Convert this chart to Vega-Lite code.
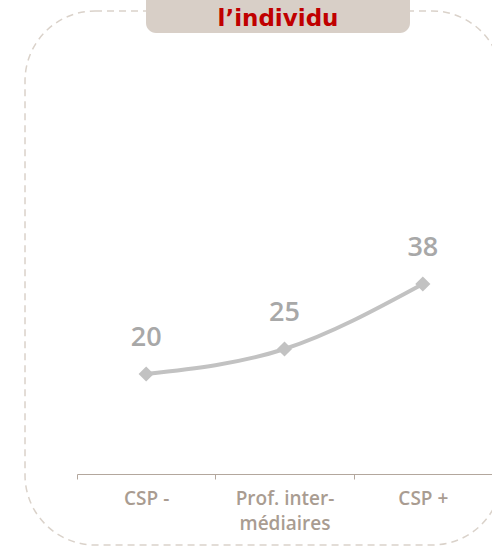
{
  "$schema": "https://vega.github.io/schema/vega-lite/v6.json",
  "autosize": "none",
  "width": 467,
  "height": 534,
  "padding": {"left": 25, "top": 11, "right": 0, "bottom": 2},
  "background": "white",
  "config": {
    "view": {"stroke": null},
    "font": "Open Sans"
  },
  "datasets": {
    "main": [
      {"cat": "CSP -", "v": 20},
      {"cat": "Prof. inter-\nmédiaires", "v": 25},
      {"cat": "CSP +", "v": 38}
    ],
    "frame": [{"x0": -0.4583, "x1": 1.3485, "yb": -14.2, "yt": 92.6}],
    "tab": [{"t": "l’individu", "x0": 0, "x1": 1, "yb": 88.2, "yt": 100, "ytext": 89.6}]
  },
  "layer": [
    {
      "data": {"name": "main"},
      "encoding": {
        "x": {
          "field": "cat", "type": "nominal", "sort": null,
          "scale": {"type": "band", "range": [52, 467], "paddingInner": 0, "paddingOuter": 0},
          "axis": {
            "title": null, "labelAngle": 0, "offset": -71, "tickBand": "extent",
            "labelExpr": "split(datum.label, '\\n')",
            "labelFont": "Open Sans", "labelFontSize": 19, "labelFontWeight": 600,
            "labelColor": "#a99c91", "labelLineHeight": 25, "labelPadding": 10,
            "domainColor": "#b3a79d", "tickColor": "#b3a79d", "tickSize": 5, "grid": false
          }
        },
        "y": {
          "field": "v", "type": "quantitative",
          "scale": {"domain": [-14.2, 92.6], "nice": false, "zero": false},
          "axis": null
        }
      },
      "layer": [
        {"mark": {"type": "line", "interpolate": "monotone", "color": "#c2c2c2", "strokeWidth": 4}},
        {"mark": {"type": "point", "shape": "diamond", "filled": true, "size": 230, "color": "#c2c2c2", "opacity": 1}},
        {"mark": {"type": "text", "dy": -36, "fontSize": 27, "fontWeight": 600, "color": "#a8a8a8", "font": "Open Sans"},
         "encoding": {"text": {"field": "v", "type": "quantitative"}}}
      ]
    },
    {
      "layer": [
        {
          "data": {"name": "frame"},
          "mark": {"type": "rect", "fill": null, "fillOpacity": 0, "stroke": "#dad2ca", "strokeDash": [7, 5], "strokeWidth": 1.5, "cornerRadius": 70, "clip": false},
          "encoding": {
            "x": {"field": "x0", "type": "quantitative", "scale": {"domain": [0, 1], "range": [121, 385]}, "axis": null},
            "x2": {"field": "x1"},
            "y": {"field": "yb", "type": "quantitative", "scale": {"domain": [-14.2, 92.6], "nice": false, "zero": false}, "axis": null},
            "y2": {"field": "yt"}
          }
        },
        {
          "data": {"name": "tab"},
          "mark": {"type": "rect", "color": "#d8cfc7", "cornerRadius": 10, "clip": false},
          "encoding": {
            "x": {"field": "x0", "type": "quantitative", "axis": null},
            "x2": {"field": "x1"},
            "y": {"field": "yb", "type": "quantitative", "axis": null},
            "y2": {"field": "yt"}
          }
        },
        {
          "data": {"name": "tab"},
          "mark": {"type": "text", "color": "#c00000", "fontSize": 23, "fontWeight": "bold", "font": "DejaVu Sans", "baseline": "alphabetic"},
          "encoding": {
            "x": {"datum": 0.5, "type": "quantitative", "axis": null},
            "y": {"field": "ytext", "type": "quantitative", "axis": null},
            "text": {"field": "t"}
          }
        }
      ]
    }
  ],
  "resolve": {"scale": {"x": "independent"}}
}
